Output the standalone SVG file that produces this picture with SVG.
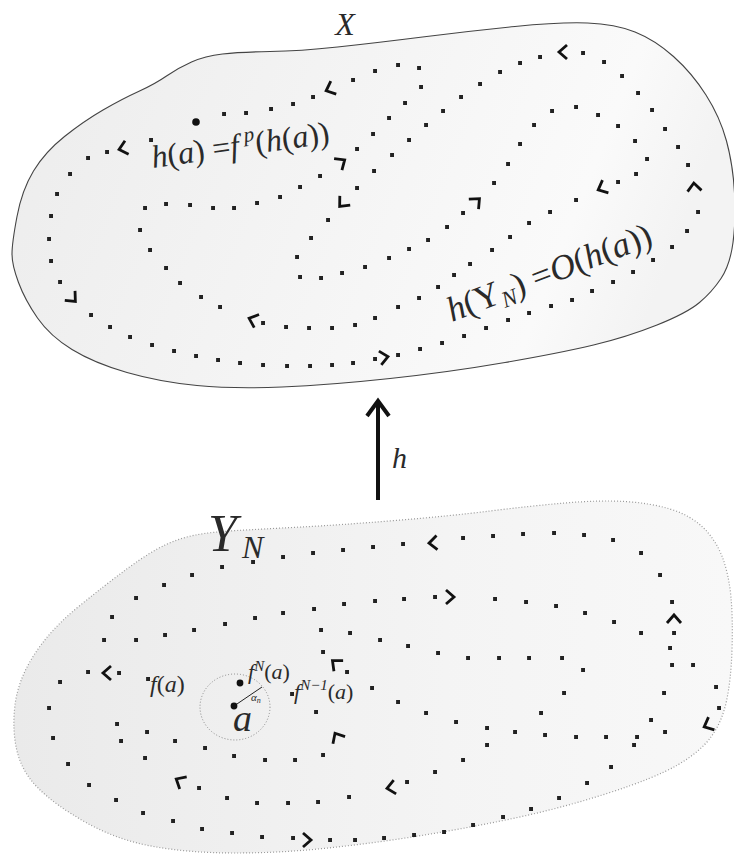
<svg xmlns="http://www.w3.org/2000/svg" width="734" height="864" viewBox="0 0 734 864">
<defs>
<linearGradient id="gx" x1="0" y1="0" x2="1" y2="0.2">
<stop offset="0" stop-color="#ececec"/><stop offset="0.55" stop-color="#f5f5f5"/><stop offset="0.85" stop-color="#fafafa"/><stop offset="1" stop-color="#f3f3f3"/>
</linearGradient>
<linearGradient id="gy" x1="0" y1="0" x2="1" y2="0">
<stop offset="0" stop-color="#eaeaea"/><stop offset="0.6" stop-color="#f4f4f4"/><stop offset="1" stop-color="#f8f8f8"/>
</linearGradient>
<path id="chev" d="M-6,-7 L2,0 L-6,7" fill="none" stroke="#111" stroke-width="2.8" stroke-linejoin="miter"/>
</defs>
<style>
.dots{fill:none;stroke:#222;stroke-width:3.8;stroke-linecap:square}
.t{font-family:"Liberation Serif","DejaVu Serif",serif;fill:#2a2a2a}
.i{font-style:italic}
</style>
<rect width="734" height="864" fill="#fff"/>

<g id="space-X">
<path d="M12 254Q12 243 17 216.5Q22 190 33.5 171Q45 152 64.5 136.5Q84 121 103 110Q122 99 138.5 91.5Q155 84 166.5 76Q178 68 191.5 62Q205 56 222.5 54Q240 52 270 51.5Q300 51 337.5 47Q375 43 422.5 37Q470 31 515 26.5Q560 22 587.5 23Q615 24 635 32Q655 40 673.5 56.5Q692 73 706 95Q720 117 726.5 141Q733 165 734.5 192.5Q736 220 733 242.5Q730 265 721 278.5Q712 292 699.5 302.5Q687 313 657 325Q627 337 593.5 345Q560 353 505 362.5Q450 372 390 378.5Q330 385 282 387Q234 389 197 385.5Q160 382 127 372.5Q94 363 72 349.5Q50 336 37.5 318Q25 300 18.5 282.5Q12 265 12 254Z" fill="url(#gx)" stroke="#444" stroke-width="1.1"/>
<text class="t i" x="345" y="35" text-anchor="middle" font-size="32">X</text>
<path class="dots" d="M151 140h.1M107 152h.1M88 158h.1M70 174h.1M57 194h.1M51 216h.1M49 239h.1M51 261h.1M60 282h.1M91 315h.1M110 327h.1M130 337h.1M152 345h.1M174 351h.1M196 356h.1M218 360h.1M240 363h.1M263 365h.1M287 366h.1M310 366h.1M332 365h.1M353 363h.1M375 359h.1M398 355h.1M420 349h.1M442 343h.1M464 336h.1M486 328h.1M508 320h.1M529 313h.1M551 306h.1M572 300h.1M592 291h.1M613 282h.1M633 272h.1M653 260h.1M672 247h.1M687 231h.1M698 212h.1M688 165h.1M678 147h.1M665 129h.1M652 110h.1M638 93h.1M622 76h.1M604 62h.1M583 53h.1M540 57h.1M520 63h.1M500 72h.1M480 84h.1M461 97h.1M443 111h.1M426 125h.1M409 140h.1M392 155h.1M374 171h.1M357 188h.1M328 220h.1M311 238h.1M297 257h.1M300 277h.1M321 278h.1M342 273h.1M365 267h.1M389 258h.1M409 249h.1M428 240h.1M447 227h.1M463 213h.1M494 183h.1M508 164h.1M520 144h.1M534 125h.1M552 111h.1M576 107h.1M598 115h.1M618 126h.1M635 141h.1M647 159h.1M636 174h.1M618 182h.1M576 200h.1M550 212h.1M529 223h.1M510 237h.1M492 250h.1M470 264h.1M454 275h.1M438 287h.1M419 298h.1M398 307h.1M375 318h.1M355 325h.1M332 328h.1M309 328h.1M286 327h.1M263 323h.1M220 307h.1M201 297h.1M180 283h.1M166 268h.1M150 250h.1M140 230h.1M145 208h.1M166 204h.1M190 205h.1M213 208h.1M234 208h.1M257 203h.1M280 197h.1M300 187h.1M320 176h.1M357 149h.1M373 134h.1M389 118h.1M405 103h.1M421 87h.1M419 68h.1M398 65h.1M375 71h.1M353 80h.1M313 97h.1M293 104h.1M271 109h.1M246 113h.1M224 114h.1"/>
<g id="x-arrows">
<use href="#chev" transform="translate(121,149) rotate(165)"/>
<use href="#chev" transform="translate(328,90) rotate(157)"/>
<use href="#chev" transform="translate(343,161) rotate(-34)"/>
<use href="#chev" transform="translate(341,205) rotate(132)"/>
<use href="#chev" transform="translate(478,200) rotate(-44)"/>
<use href="#chev" transform="translate(600,189) rotate(155)"/>
<use href="#chev" transform="translate(561,52) rotate(180)"/>
<use href="#chev" transform="translate(694,185) rotate(-95)"/>
<use href="#chev" transform="translate(386,357) rotate(-10)"/>
<use href="#chev" transform="translate(74,300) rotate(47)"/>
<use href="#chev" transform="translate(251,319) rotate(200)"/>
</g>
<circle cx="196" cy="122" r="3.8" fill="#111"/>
<text class="t" font-size="32" transform="translate(153,168) rotate(-8)"><tspan class="i">h</tspan>(<tspan class="i">a</tspan>) =<tspan class="i">f</tspan><tspan class="i" font-size="21" dx="6" dy="-13">p</tspan><tspan dy="13">(</tspan><tspan class="i">h</tspan>(<tspan class="i">a</tspan>))</text>
<text class="t" font-size="35" transform="translate(452,322) rotate(-21)"><tspan class="i">h</tspan>(<tspan>Y</tspan><tspan class="i" font-size="23" dy="6">N</tspan><tspan dy="-6">) =</tspan><tspan class="i">O</tspan>(<tspan class="i">h</tspan>(<tspan class="i">a</tspan>))</text>
</g>

<g id="connectors">
<g id="map-h">
<line x1="378" y1="500" x2="378" y2="402" stroke="#111" stroke-width="4"/>
<path d="M367 416L378 401L389 416" fill="none" stroke="#111" stroke-width="4" stroke-linejoin="miter"/>
<text class="t i" x="392" y="468" font-size="30">h</text>
</g>
</g>

<g id="space-YN">
<path d="M195.5 535Q211 532 237 530.5Q263 529 301.5 527Q340 525 395 520.5Q450 516 490 511Q530 506 565 503Q600 500 625 501.5Q650 503 670 509Q690 515 703 527.5Q716 540 722.5 557.5Q729 575 731 597.5Q733 620 732 650Q731 680 726.5 701Q722 722 711 737Q700 752 677.5 765Q655 778 608.5 793Q562 808 515 818Q468 828 421.5 835.5Q375 843 328 848Q281 853 235.5 853Q190 853 153.5 846.5Q117 840 86 822.5Q55 805 38.5 788.5Q22 772 17 751Q12 730 15 705Q18 680 34 655Q50 630 77.5 607.5Q105 585 127.5 568.5Q150 552 165 545Q180 538 195.5 535Z" fill="url(#gy)" stroke="#999" stroke-width="1.2" stroke-dasharray="1 2"/>
<text class="t i" x="208" y="551" font-size="52">Y</text>
<text class="t i" x="242" y="558" font-size="32">N</text>
<path class="dots" d="M222 567h.1M253 562h.1M283 557h.1M313 553h.1M343 550h.1M373 547h.1M403 544h.1M463 538h.1M493 536h.1M523 534h.1M554 533h.1M584 535h.1M613 540h.1M641 553h.1M660 575h.1M672 602h.1M674 633h.1M670 648h.1M672 665h.1M664 693h.1M651 720h.1M634 745h.1M611 767h.1M587 783h.1M559 798h.1M531 809h.1M503 817h.1M473 825h.1M444 832h.1M414 835h.1M384 838h.1M355 840h.1M330 840h.1M293 838h.1M262 837h.1M232 833h.1M202 829h.1M173 821h.1M143 813h.1M116 800h.1M89 785h.1M68 764h.1M53 738h.1M49 708h.1M60 682h.1M88 672h.1M119 673h.1M192 575h.1M164 585h.1M136 598h.1M112 617h.1M104 640h.1M136 640h.1M165 635h.1M194 630h.1M225 624h.1M255 618h.1M283 613h.1M314 609h.1M344 604h.1M375 601h.1M404 599h.1M435 597h.1M495 599h.1M526 602h.1M556 606h.1M585 613h.1M614 622h.1M641 633h.1M693 665h.1M716 687h.1M719 708h.1M665 732h.1M637 737h.1M606 737h.1M576 737h.1M545 735h.1M515 732h.1M487 728h.1M456 722h.1M426 713h.1M398 702h.1M372 688h.1M347 672h.1M323 652h.1M321 630h.1M350 633h.1M380 640h.1M408 646h.1M438 653h.1M468 658h.1M499 658h.1M529 658h.1M562 658h.1M583 670h.1M564 693h.1M541 713h.1M487 745h.1M463 760h.1M435 772h.1M407 782h.1M349 797h.1M318 802h.1M288 803h.1M257 803h.1M227 798h.1M199 788h.1M145 758h.1M121 741h.1M117 724h.1M147 732h.1M175 741h.1M205 748h.1M234 756h.1M265 760h.1M295 760h.1M323 755h.1M316 712h.1M292 694h.1M148 679h.1"/>
<g id="y-arrows">
<use href="#chev" transform="translate(431,543) rotate(176)"/>
<use href="#chev" transform="translate(452,597) rotate(0)"/>
<use href="#chev" transform="translate(674,617) rotate(-90)"/>
<use href="#chev" transform="translate(706,726) rotate(155)"/>
<use href="#chev" transform="translate(334,662) rotate(221)"/>
<use href="#chev" transform="translate(336,735) rotate(240)"/>
<use href="#chev" transform="translate(105,673) rotate(180)"/>
<use href="#chev" transform="translate(178,780) rotate(210)"/>
<use href="#chev" transform="translate(389,788) rotate(170)"/>
<use href="#chev" transform="translate(309,840) rotate(0)"/>
</g>
<ellipse cx="235" cy="707" rx="35" ry="33" fill="none" stroke="#888" stroke-width="1" stroke-dasharray="1 2"/>
<line x1="234" y1="706" x2="262" y2="687" stroke="#222" stroke-width="1"/>
<circle cx="240" cy="683" r="3.4" fill="#111"/>
<circle cx="234" cy="706" r="3.4" fill="#111"/>
<text class="t" x="150" y="692" font-size="24"><tspan class="i">f</tspan>(<tspan class="i">a</tspan>)</text>
<text class="t" x="248" y="679" font-size="22"><tspan class="i">f</tspan><tspan class="i" font-size="15" dy="-8">N</tspan><tspan dy="8">(</tspan><tspan class="i">a</tspan>)</text>
<text class="t" x="294" y="699" font-size="22"><tspan class="i">f</tspan><tspan class="i" font-size="15" dy="-9">N−1</tspan><tspan dy="9">(</tspan><tspan class="i">a</tspan>)</text>
<text class="t" x="251" y="701" font-size="11" fill="#555"><tspan class="i">α</tspan><tspan class="i" font-size="8" dy="2">n</tspan></text>
<text class="t i" x="233" y="731" font-size="38">a</text>
</g>
</svg>
